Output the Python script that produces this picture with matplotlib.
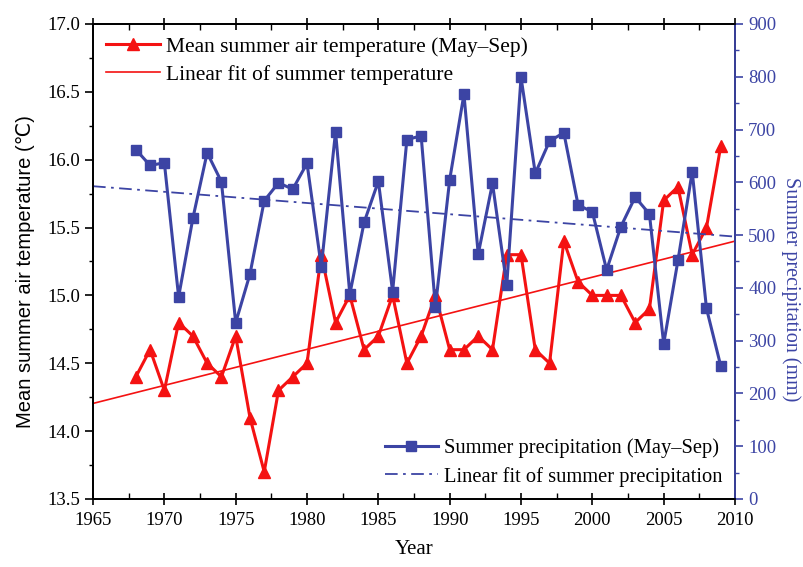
import numpy as np
import matplotlib
matplotlib.use("Agg")
from matplotlib import pyplot as plt
from matplotlib.ticker import MultipleLocator, FormatStrFormatter

# data
years = list(range(1968, 2010))
temp = [14.4, 14.6, 14.3, 14.8, 14.7, 14.5, 14.4, 14.7, 14.1, 13.7,
        14.3, 14.4, 14.5, 15.3, 14.8, 15.0, 14.6, 14.7, 15.0, 14.5,
        14.7, 15.0, 14.6, 14.6, 14.7, 14.6, 15.3, 15.3, 14.6, 14.5,
        15.4, 15.1, 15.0, 15.0, 15.0, 14.8, 14.9, 15.7, 15.8, 15.3,
        15.5, 16.1]
precip = [662, 632, 637, 383, 532, 656, 601, 334, 426, 565,
          599, 587, 636, 440, 696, 388, 524, 602, 393, 681,
          688, 364, 605, 767, 464, 598, 405, 799, 617, 678,
          694, 557, 544, 434, 516, 572, 540, 294, 452, 620,
          361, 252]

red = "#f41212"
blue = "#3c44a4"

plt.rcParams['font.family'] = ['Liberation Serif', 'DejaVu Serif', 'Noto Sans CJK SC']

fig = plt.figure(figsize=(8.04, 5.67), dpi=100)
ax1 = fig.add_axes([0.1157, 0.12, 0.7985, 0.8377])
ax2 = ax1.twinx()

# 线性拟合
xf = np.array([1965, 2010])
kt, bt = np.polyfit(years, temp, 1)
kp, bp = np.polyfit(years, precip, 1)

l1, = ax1.plot(years, temp, color=red, lw=2.2, marker="^", markersize=9,
               label="Mean summer air temperature (May\u2013Sep)")
l2, = ax1.plot(xf, kt * xf + bt, color=red, lw=1.2,
               label="Linear fit of summer temperature")

l3, = ax2.plot(years, precip, color=blue, lw=2.2, marker="s", markersize=7,
               label="Summer precipitation (May\u2013Sep)")
l4, = ax2.plot(xf, kp * xf + bp, color=blue, lw=1.3, linestyle=(0, (7, 3, 1.5, 3)),
               label="Linear fit of summer precipitation")

ax1.set_xlim(1965, 2010)
ax1.set_ylim(13.5, 17.0)
ax2.set_ylim(0, 900)

ax1.xaxis.set_major_locator(MultipleLocator(5))
ax1.xaxis.set_minor_locator(MultipleLocator(2.5))
ax1.yaxis.set_major_locator(MultipleLocator(0.5))
ax1.yaxis.set_minor_locator(MultipleLocator(0.25))
ax2.yaxis.set_major_locator(MultipleLocator(100))
ax2.yaxis.set_minor_locator(MultipleLocator(50))
ax1.yaxis.set_major_formatter(FormatStrFormatter('%.1f'))

ax1.tick_params(axis='x', which='major', direction='inout', length=9, width=1.2,
                labelsize=13.5, top=True, pad=5)
ax1.tick_params(axis='x', which='minor', direction='in', length=4, width=1.0, top=True)
ax1.tick_params(axis='y', which='major', direction='out', length=6, width=1.2, labelsize=13.5)
ax1.tick_params(axis='y', which='minor', direction='out', length=3, width=1.0)
ax2.tick_params(axis='y', which='major', direction='out', length=6, width=1.2,
                labelsize=13.5, colors=blue)
ax2.tick_params(axis='y', which='minor', direction='out', length=3, width=1.0, colors=blue)

for s in ax1.spines.values():
    s.set_linewidth(1.3)
for s in ax2.spines.values():
    s.set_linewidth(1.3)
ax2.spines['right'].set_color(blue)

ax1.set_xlabel("Year", fontsize=15, labelpad=8)
ax1.set_ylabel("Mean summer air temperature (\u2103)", fontsize=14.5,
               family=['Liberation Sans', 'DejaVu Sans'])
ax1.yaxis.set_label_coords(-0.09, 0.478)
ax2.set_ylabel("Summer precipitation (mm)", fontsize=14.5, color=blue, rotation=270)
ax2.yaxis.set_label_coords(1.103, 0.442)

ax1.legend(handles=[l1, l2], loc="upper left", frameon=False, fontsize=15.5,
           handlelength=2.5, handletextpad=0.3, borderaxespad=0.2, labelspacing=0.35)
ax2.legend(handles=[l3, l4], loc="lower right", frameon=False, fontsize=14.8,
           handlelength=2.6, handletextpad=0.3, borderaxespad=0.2, labelspacing=0.4)

plt.savefig("out.png", dpi=100)
